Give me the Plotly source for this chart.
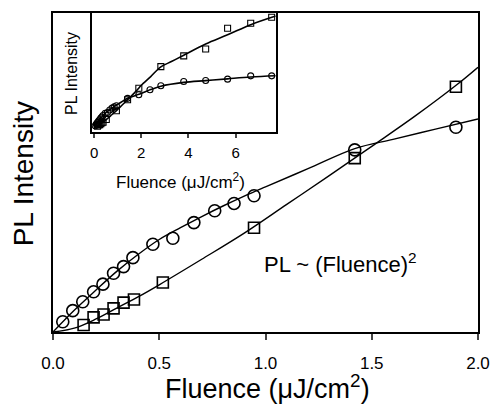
import plotly.graph_objects as go

# ---- data ----
circ_x = [0.046, 0.093, 0.140, 0.191, 0.235, 0.285, 0.332, 0.376, 0.470, 0.564,
          0.663, 0.761, 0.852, 0.946, 1.420, 1.896]
circ_y = [0.032, 0.067, 0.095, 0.126, 0.150, 0.184, 0.205, 0.233, 0.275, 0.294,
          0.343, 0.380, 0.403, 0.427, 0.571, 0.642]
sq_x = [0.144, 0.191, 0.238, 0.285, 0.332, 0.381, 0.517, 0.946, 1.420, 1.896]
sq_y = [0.022, 0.046, 0.055, 0.074, 0.092, 0.102, 0.155, 0.327, 0.545, 0.769]

circ_fit_x = [0.0, 0.1, 0.2, 0.3, 0.4, 0.5, 0.6, 0.7, 0.8, 0.9, 1.0, 1.2, 1.42, 1.6, 1.8, 2.0]
circ_fit_y = [0.0, 0.068, 0.13, 0.19, 0.243, 0.29, 0.327, 0.362, 0.395, 0.426, 0.455,
              0.512, 0.575, 0.604, 0.636, 0.668]
sq_fit_x = [0.0, 0.1, 0.2, 0.3, 0.4, 0.5, 0.7, 0.9, 1.1, 1.3, 1.5, 1.7, 1.9, 2.0]
sq_fit_y = [0.0, 0.012, 0.04, 0.075, 0.11, 0.148, 0.228, 0.31, 0.4, 0.49, 0.582, 0.675, 0.775, 0.83]

# inset: high-fluence points
hi_circ_x = [2.37, 2.83, 3.80, 4.73, 5.66, 6.64, 7.53]
hi_circ_y = [0.739, 0.818, 0.902, 0.922, 0.949, 1.014, 1.014]
hi_sq_x = [2.83, 3.80, 4.73, 5.66, 6.64, 7.53]
hi_sq_y = [1.196, 1.406, 1.543, 1.949, 2.047, 2.165]
hi_circ_fit_x = [2.4, 2.83, 3.8, 4.73, 5.66, 6.64, 7.7]
hi_circ_fit_y = [0.745, 0.81, 0.885, 0.92, 0.955, 0.99, 1.015]
hi_sq_fit_x = [2.4, 2.83, 3.3, 3.8, 4.73, 5.66, 6.64, 7.7]
hi_sq_fit_y = [1.0, 1.19, 1.3, 1.42, 1.64, 1.82, 2.02, 2.19]

x_ticks = [0.0, 0.5, 1.0, 1.5, 2.0]
inset_ticks = [0, 2, 4, 6]

X_TITLE = "Fluence (μJ/cm<sup>2</sup>)"
Y_TITLE = "PL Intensity"
NOTE = "PL ~ (Fluence)<sup>2</sup>"

FONT = "Liberation Sans, Arial, sans-serif"
fig = go.Figure()

# main fits
fig.add_trace(go.Scatter(x=circ_fit_x, y=circ_fit_y, mode="lines", line=dict(color="black", width=1.4, shape="spline"), showlegend=False))
fig.add_trace(go.Scatter(x=sq_fit_x, y=sq_fit_y, mode="lines", line=dict(color="black", width=1.4, shape="spline"), showlegend=False))
# main markers
fig.add_trace(go.Scatter(x=circ_x, y=circ_y, mode="markers",
                         marker=dict(symbol="circle-open", size=12, color="black", line=dict(width=1.6)), showlegend=False))
fig.add_trace(go.Scatter(x=sq_x, y=sq_y, mode="markers",
                         marker=dict(symbol="square-open", size=11, color="black", line=dict(width=1.6)), showlegend=False))

# inset
fig.add_trace(go.Scatter(x=circ_fit_x + hi_circ_fit_x, y=circ_fit_y + hi_circ_fit_y, mode="lines",
                         line=dict(color="black", width=1.6, shape="spline"), xaxis="x2", yaxis="y2", showlegend=False))
fig.add_trace(go.Scatter(x=sq_fit_x + hi_sq_fit_x, y=sq_fit_y + hi_sq_fit_y, mode="lines",
                         line=dict(color="black", width=1.6, shape="spline"), xaxis="x2", yaxis="y2", showlegend=False))
fig.add_trace(go.Scatter(x=circ_x + hi_circ_x, y=circ_y + hi_circ_y, mode="markers",
                         marker=dict(symbol="circle-open", size=6, color="black", line=dict(width=1.1)),
                         xaxis="x2", yaxis="y2", showlegend=False))
fig.add_trace(go.Scatter(x=sq_x + hi_sq_x, y=sq_y + hi_sq_y, mode="markers",
                         marker=dict(symbol="square-open", size=6, color="black", line=dict(width=1.1)),
                         xaxis="x2", yaxis="y2", showlegend=False))

fig.update_layout(
    width=494, height=404,
    margin=dict(l=53, r=16, t=13, b=72, autoexpand=False),
    paper_bgcolor="white", plot_bgcolor="white",
    font=dict(family=FONT, color="black"),
    xaxis=dict(range=[0, 2.0], tickvals=x_ticks, tickformat=".1f", ticks="outside", ticklen=6, tickwidth=1.5,
               showline=True, linewidth=1.8, linecolor="black", mirror=True, showgrid=False, zeroline=False,
               automargin=False, tickfont=dict(size=17), ticklabelstandoff=9),
    yaxis=dict(range=[0, 1.0], showticklabels=False, ticks="", showline=True, linewidth=1.8, linecolor="black",
               mirror=True, showgrid=False, zeroline=False, automargin=False),
    xaxis2=dict(domain=[0.092, 0.524], anchor="y2", range=[-0.085, 7.7], tickvals=inset_ticks, ticks="outside",
                ticklen=4, tickwidth=1.5, showline=True, linewidth=2, linecolor="black", mirror=True,
                showgrid=False, zeroline=False, automargin=False, tickfont=dict(size=15), ticklabelstandoff=2),
    yaxis2=dict(domain=[0.628, 1.0], anchor="x2", range=[-0.084, 2.25], showticklabels=False, ticks="",
                showline=True, linewidth=2, linecolor="black", mirror=True, showgrid=False, zeroline=False,
                automargin=False),
    annotations=[
        dict(x=1.352, y=0.215, xref="x", yref="y", text=NOTE, showarrow=False,
             font=dict(size=22), xanchor="center", yanchor="middle"),
        dict(x=0.505, y=-0.172, xref="paper", yref="paper", text=X_TITLE, showarrow=False,
             font=dict(size=27), xanchor="center", yanchor="middle"),
        dict(x=-0.07, y=0.495, xref="paper", yref="paper", text=Y_TITLE, showarrow=False, textangle=-90,
             font=dict(size=28), xanchor="center", yanchor="middle"),
        dict(x=0.301, y=0.472, xref="paper", yref="paper", text=X_TITLE, showarrow=False,
             font=dict(size=17), xanchor="center", yanchor="middle"),
        dict(x=0.0447, y=0.812, xref="paper", yref="paper", text=Y_TITLE, showarrow=False, textangle=-90,
             font=dict(size=16), xanchor="center", yanchor="middle"),
    ],
)

fig.write_html("out.html", config={"displayModeBar": False},
               post_script="document.body.style.margin='0';")
